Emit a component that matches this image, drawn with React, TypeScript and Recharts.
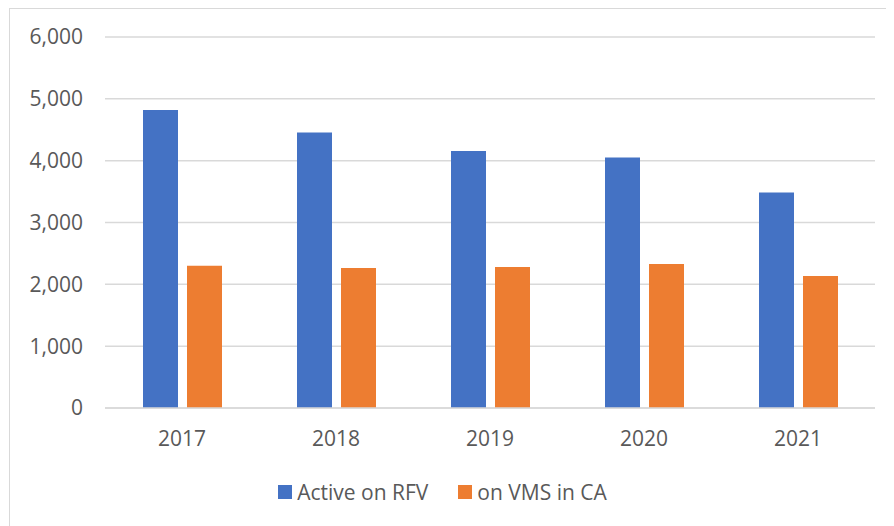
import React from "react";
import { BarChart, Bar, XAxis, YAxis, CartesianGrid, Legend } from "recharts";

const years = ["2017", "2018", "2019", "2020", "2021"];
const activeOnRFV = [4820, 4455, 4155, 4050, 3485];
const onVMSinCA = [2300, 2265, 2280, 2330, 2135];
const yTicks = [0, 1000, 2000, 3000, 4000, 5000, 6000];
const seriesNames = ["Active on RFV", "on VMS in CA"];
const seriesColors = ["#4472C4", "#ED7D31"];

const data = years.map((y, i) => ({ year: y, a: activeOnRFV[i], b: onVMSinCA[i] }));

const FONT = "'Open Sans', sans-serif";
const TEXT = "#595959";

const LegendContent = () => (
  <div style={{ display: "flex", justifyContent: "center", alignItems: "center", fontFamily: FONT, fontSize: 21, color: TEXT }}>
    {seriesNames.map((n, i) => (
      <div key={n} style={{ display: "flex", alignItems: "center", marginLeft: i ? 30 : 0 }}>
        <span style={{ width: 14, height: 14, background: seriesColors[i], display: "inline-block", marginRight: 5 }} />
        <span>{n}</span>
      </div>
    ))}
  </div>
);

export default function App() {
  return (
    <div style={{ borderLeft: "1px solid #d9d9d9", borderTop: "1px solid #d9d9d9", width: 885, height: 517, marginLeft: 1, background: "#fff" }}>
      <BarChart
        width={885}
        height={517}
        data={data}
        margin={{ top: 28, right: 20, left: 0, bottom: 20 }}
        barSize={35}
        barGap={9}
      >
        <CartesianGrid vertical={false} stroke="#d9d9d9" strokeWidth={1.5} />
        <XAxis
          dataKey="year"
          axisLine={{ stroke: "#d9d9d9", strokeWidth: 1.5 }}
          tickLine={false}
          tickSize={0}
          tickMargin={23}
          height={70}
          tick={{ fill: TEXT, fontSize: 21, fontFamily: FONT }}
        />
        <YAxis
          width={95}
          domain={[0, 6000]}
          ticks={yTicks}
          axisLine={false}
          tickLine={false}
          tickSize={0}
          tickMargin={22}
          tickFormatter={(v: number) => v.toLocaleString("en-US")}
          tick={{ fill: TEXT, fontSize: 21, fontFamily: FONT }}
        />
        <Legend verticalAlign="bottom" content={<LegendContent />} />
        <Bar dataKey="a" name={seriesNames[0]} fill={seriesColors[0]} isAnimationActive={false} />
        <Bar dataKey="b" name={seriesNames[1]} fill={seriesColors[1]} isAnimationActive={false} />
      </BarChart>
    </div>
  );
}
